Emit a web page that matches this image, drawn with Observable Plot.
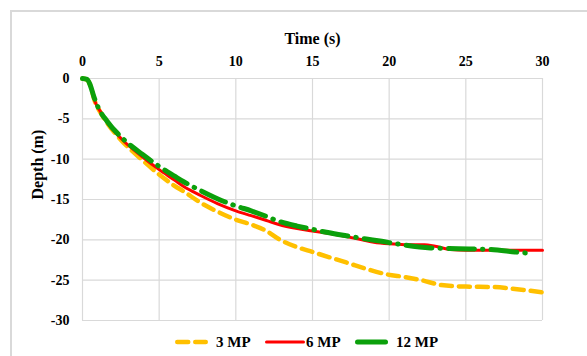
<!DOCTYPE html>
<html>
<head>
<meta charset="utf-8">
<script src="https://cdn.jsdelivr.net/npm/d3@7"></script>
<script src="https://cdn.jsdelivr.net/npm/@observablehq/plot@0.6"></script>
<style>
  html, body { margin: 0; padding: 0; background: #fff; }
  #wrap { position: relative; width: 587px; height: 356px; overflow: hidden; }
  #frame { position: absolute; left: 10px; top: 10px; width: 640px; height: 420px; border: 2px solid #d9d9d9; box-sizing: border-box; }
  #chart { position: absolute; left: 0; top: 0; }
  #legend { position: absolute; left: 0; top: 332px; width: 587px; height: 20px; font-family: "Liberation Serif", "Times New Roman", serif; font-weight: bold; font-size: 15px; }
  #legend .item { position: absolute; top: 0; display: flex; align-items: center; height: 20px; }
  #legend svg { display: block; }
</style>
</head>
<body>
<div id="wrap">
  <div id="frame"></div>
  <div id="chart"></div>
  <div id="legend"></div>
</div>
<script>
// ---- data ----
const seriesNames = ["3 MP", "6 MP", "12 MP"];

const time3 = [0, 0.3, 0.5, 0.8, 1.2, 1.6, 2.6, 3.9, 5, 6, 6.6, 7.7, 8.8, 10, 11, 12, 12.8, 14, 15, 16, 17.2, 18.5, 19.9, 21, 22.1, 23.4, 25, 26.8, 28.2, 30];
const depth3 = [0, -0.15, -0.8, -2.8, -4.3, -5.5, -7.8, -10.1, -11.9, -13.3, -14.0, -15.4, -16.5, -17.5, -18.1, -18.9, -19.9, -20.9, -21.5, -22.1, -22.8, -23.6, -24.3, -24.6, -25.0, -25.6, -25.8, -25.85, -26.1, -26.5];

const time6 = [0, 0.3, 0.5, 0.8, 1.2, 1.6, 2.6, 3.9, 5, 6, 6.6, 7.7, 8.8, 10, 11, 12, 12.8, 14, 15, 16, 17.2, 18, 19, 20, 21, 22.3, 23, 24, 25, 30];
const depth6 = [0, -0.15, -0.8, -2.8, -4.2, -5.4, -7.6, -9.7, -11.3, -12.6, -13.4, -14.5, -15.5, -16.4, -17.0, -17.6, -18.1, -18.6, -18.9, -19.2, -19.6, -19.9, -20.3, -20.5, -20.6, -20.6, -20.8, -21.2, -21.3, -21.3];

const time12 = [0, 0.3, 0.5, 0.75, 1, 1.6, 2.6, 3.9, 5, 6, 6.6, 7.7, 8.8, 10, 11, 12, 12.8, 14, 15, 16, 17.2, 18.5, 19.4, 20.5, 22.7, 24.5, 26.6, 28.2, 29.3];
const depth12 = [0, -0.1, -0.8, -2.3, -3.5, -5.3, -7.4, -9.4, -10.9, -12.1, -12.8, -13.9, -14.9, -15.8, -16.4, -17.1, -17.7, -18.3, -18.7, -19.1, -19.5, -19.9, -20.15, -20.5, -21.0, -21.1, -21.2, -21.5, -21.7];

const xTicks = [0, 5, 10, 15, 20, 25, 30];
const yTicks = [0, -5, -10, -15, -20, -25, -30];

// ---- styles ----
const styles = [
  {stroke: "#FFC000", strokeWidth: 4.5, strokeDasharray: "11,7", strokeLinecap: "round"},
  {stroke: "#FF0000", strokeWidth: 3, strokeDasharray: null, strokeLinecap: "round"},
  {stroke: "#0BA00B", strokeWidth: 5, strokeDasharray: "26,8,0.5,8", strokeLinecap: "round"}
];

const toRows = (t, d) => t.map((v, i) => ({t: v, d: d[i]}));
const rows = [toRows(time3, depth3), toRows(time6, depth6), toRows(time12, depth12)];

const font = `"Liberation Serif", "Times New Roman", serif`;
const fmt = d => String(d);

const chart = Plot.plot({
  width: 587,
  height: 356,
  marginLeft: 82,
  marginRight: 45,
  marginTop: 78,
  marginBottom: 36,
  style: {fontFamily: font, fontWeight: "bold", fontSize: "14px", color: "#000", background: "transparent"},
  x: {domain: [0, 30]},
  y: {domain: [-30, 0]},
  marks: [
    Plot.gridX(xTicks, {stroke: "#d9d9d9", strokeOpacity: 1, strokeWidth: 1.2}),
    Plot.gridY(yTicks, {stroke: "#d9d9d9", strokeOpacity: 1, strokeWidth: 1.2}),
    Plot.axisX(xTicks, {anchor: "top", tickSize: 0, tickPadding: 13, label: null, fontSize: 14, fontWeight: "bold", tickFormat: fmt}),
    Plot.axisY(yTicks, {anchor: "left", tickSize: 0, tickPadding: 13, label: null, fontSize: 14, fontWeight: "bold", tickFormat: fmt}),
    Plot.text(["Time (s)"], {frameAnchor: "top", dy: -46, fontSize: 16, fontWeight: "bold"}),
    Plot.text(["Depth (m)"], {frameAnchor: "left", rotate: -90, dx: -45, fontSize: 16, fontWeight: "bold"}),
    ...rows.map((r, i) => Plot.line(r, {x: "t", y: "d", curve: "monotone-x", ...Object.fromEntries(Object.entries(styles[i]).filter(([k, v]) => v != null))}))
  ]
});
document.getElementById("chart").appendChild(chart);

// ---- legend ----
const legend = document.getElementById("legend");
const legendLeft = [175, 265, 355];
seriesNames.forEach((name, i) => {
  const item = document.createElement("div");
  item.className = "item";
  item.style.left = legendLeft[i] + "px";
  const s = styles[i];
  const w = i === 1 ? 40 : 33;
  const gap = i === 1 ? 1 : 8;
  item.innerHTML = `<svg width="${w}" height="20"><line x1="${s.strokeWidth / 2}" y1="10" x2="${w - s.strokeWidth / 2}" y2="10" stroke="${s.stroke}" stroke-width="${s.strokeWidth}" ${s.strokeDasharray && i === 0 ? `stroke-dasharray="${s.strokeDasharray}"` : ""} stroke-linecap="round"/></svg><span style="margin-left:${gap}px">${name}</span>`;
  legend.appendChild(item);
});
</script>
</body>
</html>
